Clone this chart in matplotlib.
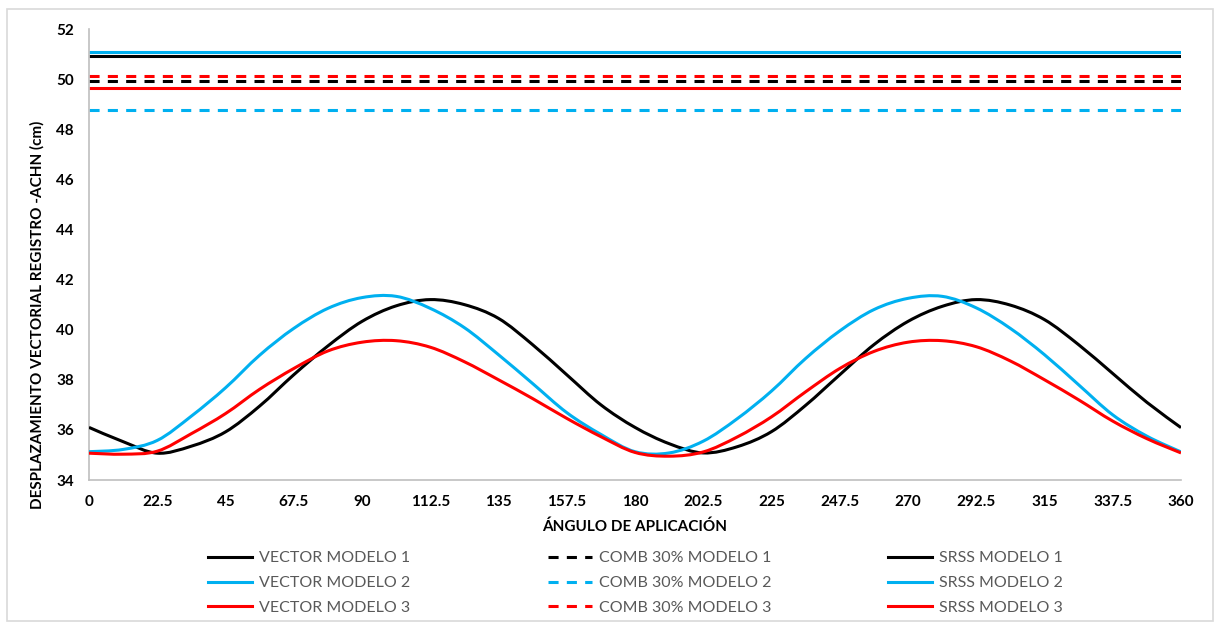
import matplotlib
matplotlib.use("Agg")
import numpy as np
import matplotlib.pyplot as plt
from matplotlib.lines import Line2D
from matplotlib.patches import Rectangle, PathPatch
from matplotlib.path import Path

# Application angle (degrees)
angles = [0, 11.25, 22.5, 33.75, 45, 56.25, 67.5, 78.75, 90, 101.25, 112.5,
          123.75, 135, 146.25, 157.5, 168.75, 180, 191.25, 202.5, 213.75,
          225, 236.25, 247.5, 258.75, 270, 281.25, 292.5, 303.75, 315,
          326.25, 337.5, 348.75, 360]

# Vector displacement (cm) per model
vector_m1 = [36.10, 35.53, 35.07, 35.35, 35.92, 36.95, 38.20, 39.35, 40.33,
             40.95, 41.20, 41.00, 40.45, 39.40, 38.20, 37.00, 36.10, 35.45,
             35.08, 35.33, 35.93, 36.98, 38.20, 39.40, 40.33, 40.93, 41.20,
             40.98, 40.40, 39.40, 38.25, 37.10, 36.09]
vector_m2 = [35.13, 35.22, 35.58, 36.55, 37.68, 38.98, 40.05, 40.85, 41.28,
             41.33, 40.85, 40.08, 39.00, 37.85, 36.69, 35.82, 35.13, 35.08,
             35.55, 36.45, 37.55, 38.85, 39.95, 40.80, 41.25, 41.33, 40.87,
             40.05, 39.00, 37.80, 36.60, 35.75, 35.12]
vector_m3 = [35.07, 35.03, 35.15, 35.85, 36.65, 37.62, 38.45, 39.15, 39.50,
             39.56, 39.30, 38.72, 38.00, 37.25, 36.46, 35.73, 35.10, 34.95,
             35.12, 35.72, 36.52, 37.52, 38.45, 39.13, 39.50, 39.56, 39.32,
             38.75, 38.00, 37.20, 36.35, 35.65, 35.08]

# Combination 30% and SRSS displacements (cm), models 1..3
comb30 = [49.93, 48.76, 50.12]
srss = [50.92, 51.09, 49.65]

x_ticks = [0, 22.5, 45, 67.5, 90, 112.5, 135, 157.5, 180, 202.5, 225, 247.5,
           270, 292.5, 315, 337.5, 360]
x_tick_labels = ["0", "22.5", "45", "67.5", "90", "112.5", "135", "157.5",
                 "180", "202.5", "225", "247.5", "270", "292.5", "315",
                 "337.5", "360"]
y_ticks = [34, 36, 38, 40, 42, 44, 46, 48, 50, 52]

models = ["MODELO 1", "MODELO 2", "MODELO 3"]
colors = ["#000000", "#00B0F0", "#FF0000"]

plt.rcParams["font.family"] = ["Lato", "DejaVu Sans"]


def smooth_line_path(xs, ys):
    """Cubic Bezier path through every point (spreadsheet-style smoothed line)."""
    p = np.column_stack([xs, ys]).astype(float)
    n = len(p)
    verts = [p[0]]
    codes = [Path.MOVETO]
    for i in range(n - 1):
        p0 = p[i - 1] if i > 0 else p[i]
        p1, p2 = p[i], p[i + 1]
        p3 = p[i + 2] if i + 2 < n else p[i + 1]
        c1 = p1 + (p2 - p0) / 6.0
        c2 = p2 - (p3 - p1) / 6.0
        verts += [c1, c2, p2]
        codes += [Path.CURVE4] * 3
    return Path(np.array(verts), codes)


W, H = 1216, 630
fig = plt.figure(figsize=(W / 100, H / 100), dpi=100)
fig.patch.set_facecolor("white")

# light frame around the chart area
fig.add_artist(Rectangle((7 / W, 1 - 621 / H), (1213 - 7) / W, (621 - 9) / H,
                         transform=fig.transFigure, fill=False,
                         edgecolor="#D9D9D9", lw=1.2))

ax = fig.add_axes([89 / W, 1 - 480 / H, (1181 - 89) / W, (480 - 29) / H])

lw = 2.2
dash = (0, (3.3, 2.7))
vectors = [vector_m1, vector_m2, vector_m3]

for i in range(3):
    ax.add_patch(PathPatch(smooth_line_path(angles, vectors[i]), fill=False,
                           edgecolor=colors[i], lw=lw, zorder=3,
                           capstyle="butt", joinstyle="round"))
for i in range(3):
    ax.hlines(comb30[i], angles[0], angles[-1], colors=colors[i], lw=lw,
              linestyles=dash, zorder=2)
for i in range(3):
    ax.hlines(srss[i], angles[0], angles[-1], colors=colors[i], lw=lw,
              zorder=2)

ax.set_xlim(0, 360)
ax.set_ylim(34, 52)
ax.set_xticks(x_ticks)
ax.set_xticklabels(x_tick_labels)
ax.set_yticks(y_ticks)
ax.set_yticklabels([str(v) for v in y_ticks])
ax.tick_params(axis="both", length=0, labelsize=11)
ax.tick_params(axis="x", pad=11)
ax.tick_params(axis="y", pad=11)
for lab in ax.get_xticklabels() + ax.get_yticklabels():
    lab.set_fontweight("bold")
    lab.set_color("#000000")

for s in ["top", "right"]:
    ax.spines[s].set_visible(False)
for s in ["left", "bottom"]:
    ax.spines[s].set_color("#BFBFBF")
    ax.spines[s].set_linewidth(1.2)

fig.text(635 / W, 1 - 527 / H, "ÁNGULO DE APLICACIÓN", ha="center",
         va="center", fontsize=11, fontweight="bold")
fig.text(37 / W, 1 - 315 / H, "DESPLAZAMIENTO VECTORIAL REGISTRO -ACHN (cm)",
         ha="center", va="center", rotation=90, fontsize=11,
         fontweight="bold")

# legend: one column per combination method
groups = [("VECTOR", "-", 208), ("COMB 30%", dash, 548), ("SRSS", "-", 888)]
for name, style, xpix in groups:
    handles = [Line2D([], [], color=colors[i], lw=lw, linestyle=style)
               for i in range(3)]
    labels = [f"{name} {m}" for m in models]
    leg = fig.legend(handles, labels, loc="center left",
                     bbox_to_anchor=(xpix / W, 1 - 583 / H), frameon=False,
                     fontsize=11.5, handlelength=2.75, handletextpad=0.45,
                     labelspacing=0.66, borderpad=0, borderaxespad=0)
    for t in leg.get_texts():
        t.set_color("#595959")

fig.savefig("out.png", dpi=100, facecolor="white")
